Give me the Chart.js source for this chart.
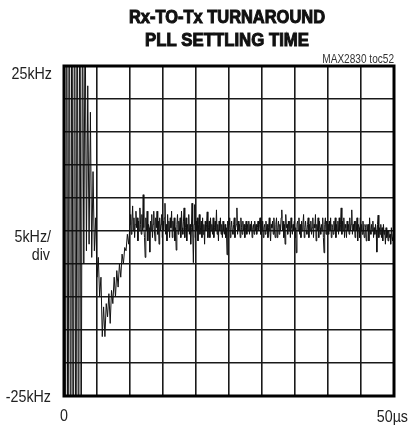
<!DOCTYPE html>
<html>
<head>
<meta charset="utf-8">
<script src="https://cdn.jsdelivr.net/npm/chart.js@4.4.1/dist/chart.umd.min.js"></script>
<style>
  html, body { margin: 0; padding: 0; background: #fff; }
  #wrap { width: 409px; height: 428px; }
</style>
</head>
<body>
<div id="wrap"><canvas id="pll" width="409" height="428"></canvas></div>
<script>
// axis limits, 10 divisions each way
const xRangeUs = [0, 50];
const yRangeKHz = [-25, 25];
const divisions = 10;

// transient part, 0 .. 10 us, one value every 0.2 us (kHz)
const transientStepUs = 0.2;
const transientKHz = [
  60, -60, 60, -60, 60, -60, 60, -60, 60, -60,
  60, -60, 55, -40, 40, -5, 35, -3, 22, -2,
  18, -4, 9, -3, 2, -7, -4, -10, -7, -16,
  -11.5, -16, -11, -13, -9.5, -14, -9, -11, -7, -10,
  -6, -8.5, -5, -7, -3.5, -5, -2.5, -3, -0.5, -2,
  1
];

// settled part, 10.1 .. 50 us, one value every 0.1 us (kHz), one row per us
const settledStepUs = 0.1;
const settledKHz = [
  2.5, -0.5, 1.5, 3.8, 0, 2, -1, 1, 3, 0.5,
  2, -1.5, 1.5, 0, 3.5, 1, -0.5, 2.5, 0, 5.5,
  0.5, -1, -4, 2, 0, 3, -1.5, 1, 0.5, -3.2,
  1.5, 0, 2.5, -1, 1, 3, 0, -1.5, 2, 0.5,
  3, -0.5, 1.5, -2, 2, 0, 1, 2.5, -1, 1.5,
  0, 2, 4.2, -0.5, 1, -1.5, 2.5, 0, 1.5, -1,
  2, 0.5, 3, -1, 1.5, 0, 2, -1.5, 0.5, -2.9,
  1, 2.5, -0.5, 1.5, 0, 2, -1, 3, 0.5, -0.5,
  1.5, 3.5, -1, 0.5, 2, -1.5, 1, 0, 2.5, -0.5,
  1, -2, 0.5, 4.2, 0, -4.8, 1, 4, -1, 1.5,
  0, 2, -1.5, 1, 2.5, -0.5, 0.5, 1.5, -1, 2,
  -0.5, 1, -2, 1.5, 0, 1, 2.9, -1, 0.5, 1.5,
  -1, 2, 0, 1, -0.5, 2, -1, 0.5, 1.5, 0,
  3.2, -0.5, 1, -1.5, 1.5, 0, 2, -0.5, 1, -1,
  1.5, 0, -0.5, 1, -1, 0.5, -3.6, 1.5, 0, 1,
  2, -1, 0.5, 1.5, 0, -0.5, 1, 2, -1, 0.5,
  1, 3.5, -0.5, 1.5, 0, 1, -1, 2, 0.5, -0.5,
  1.5, 0, 1, -1, 0.5, 1.5, -0.5, 1, 0, 1.5,
  -0.5, 1, 0, 1.5, -1, 0.5, 1, -0.5, 1.5, 0,
  1, -0.5, 0.5, 1.5, 0, 1, 2, -0.5, 1, 0,
  1.5, -1, 0.5, 1, -0.5, 1.5, 0, 1, -1, 0.5,
  2, 0, -1.5, 1, 0.5, 1.5, -0.5, 2, 0, -1,
  1, 2, -1, 0.5, 1.5, -0.5, 1, 0, 2, 3.2,
  0, 1.5, -1, 1, -2, 2.5, 0.5, 1, -0.5, 1.5,
  0, 1.5, -1, 2, 0.5, -0.5, 1, 0, 1.5, -1,
  0.5, -3.3, 1, 1.5, 0, 2, -0.5, 1, -1, 1.5,
  0, 1, 2.5, -1, 0.5, 1.5, 0, -0.5, 1, 2,
  -1, 1, 0, 1.5, -0.5, 0.5, 2, -1, 1, 0.5,
  2.5, -1.5, 1, 0, 2, -1, 1.5, 0.5, -0.5, 1,
  0, 2, -1, -3.3, 1, 2, -0.5, 1.5, 0, 1,
  -0.5, 1.5, 0, 2, -1, 1, 0.5, -0.5, 1.5, 0,
  2, -1, 1, 0, 1.5, -0.5, 2, 0, 1, 3.5,
  -0.5, 1.5, 0, 2, -1, 1, 0.5, -1, 1.5, 0,
  1, -0.5, 2, 0, 1, 3.2, -0.5, 1, 0, 1.5,
  -1, 1.5, 0, 2, -1.5, 1, 0.5, -1, 2, 0,
  1, -0.5, 1.5, 0, -1, 1, 0.5, -1.5, 1, 0,
  1, -1.5, 2, 0, -0.5, 1, 0, 1.5, -1, 0.5,
  -0.5, 1, 0, -3.2, 1, 2.4, -1, 0.5, -0.5, 1,
  -1, 0.5, -1.5, 1, -0.5, 0, -2, 0.5, -1, 0,
  -1.5, 0, -1, -0.5, -2, 0.5, -1, -1.5, -0.5, -1
];

const lastTransientUs = (transientKHz.length - 1) * transientStepUs;
const points = transientKHz.map((v, i) => ({ x: i * transientStepUs, y: v }))
  .concat(settledKHz.map((v, i) => ({ x: lastTransientUs + (i + 1) * settledStepUs, y: v })));

// narrow helvetica look: draw with a horizontal squeeze
function narrowText(ctx, text, x, y, font, sx, align, heavy) {
  ctx.save();
  ctx.font = font;
  ctx.textAlign = align;
  ctx.translate(x, y);
  ctx.scale(sx, 1);
  ctx.fillText(text, 0, 0);
  if (heavy) {
    ctx.lineWidth = heavy;
    ctx.strokeStyle = ctx.fillStyle;
    ctx.strokeText(text, 0, 0);
  }
  ctx.restore();
}

// squeeze text so it spans a given width (centered on x)
function fitText(ctx, text, x, y, font, width, heavy) {
  ctx.font = font;
  const sx = width / ctx.measureText(text).width;
  narrowText(ctx, text, x, y, font, sx, "center", heavy);
}

const labelFont = '17px "Liberation Sans", Arial, sans-serif';
const squeeze = 0.84;

const scopeDecor = {
  id: "scopeDecor",
  afterDraw(chart) {
    const ctx = chart.ctx;
    const a = chart.chartArea;
    ctx.save();
    ctx.strokeStyle = "#000";
    ctx.lineWidth = 3;
    ctx.strokeRect(a.left, a.top, a.right - a.left, a.bottom - a.top);
    ctx.textBaseline = "alphabetic";

    ctx.fillStyle = "#111";
    const titleFont = 'bold 18px "Liberation Sans", Arial, sans-serif';
    fitText(ctx, "Rx-TO-Tx TURNAROUND", 227, 23, titleFont, 196, 1);
    fitText(ctx, "PLL SETTLING TIME", 227, 46, titleFont, 164, 1);

    ctx.fillStyle = "#333";
    narrowText(ctx, "MAX2830 toc52", a.right, a.top - 3, '12px "Liberation Sans", Arial, sans-serif', 0.84, "right");

    ctx.fillStyle = "#222";
    narrowText(ctx, "25kHz", 52, 79, labelFont, squeeze, "right");
    narrowText(ctx, "5kHz/", 51, 242, labelFont, squeeze, "right");
    narrowText(ctx, "div", 50, 260, labelFont, squeeze, "right");
    narrowText(ctx, "-25kHz", 51, 402, labelFont, squeeze, "right");
    narrowText(ctx, "50\u00b5s", 408, 422, labelFont, squeeze, "right");
    narrowText(ctx, "0", a.left, 421, labelFont, squeeze, "center");
    ctx.restore();
  }
};

new Chart(document.getElementById("pll"), {
  type: "line",
  data: {
    datasets: [{
      data: points,
      borderColor: "#111",
      borderWidth: 1,
      pointRadius: 0,
      tension: 0,
      fill: false
    }]
  },
  options: {
    responsive: false,
    animation: false,
    layout: { padding: { left: 64, top: 66, right: 15, bottom: 32 } },
    plugins: { legend: { display: false }, tooltip: { enabled: false } },
    scales: {
      x: {
        type: "linear",
        min: xRangeUs[0],
        max: xRangeUs[1],
        ticks: { display: false, stepSize: (xRangeUs[1] - xRangeUs[0]) / divisions },
        grid: { color: "#1a1a1a", lineWidth: 1.6, drawTicks: false },
        border: { display: false }
      },
      y: {
        min: yRangeKHz[0],
        max: yRangeKHz[1],
        ticks: { display: false, stepSize: (yRangeKHz[1] - yRangeKHz[0]) / divisions },
        grid: { color: "#1a1a1a", lineWidth: 1.6, drawTicks: false },
        border: { display: false }
      }
    }
  },
  plugins: [scopeDecor]
});
</script>
</body>
</html>
